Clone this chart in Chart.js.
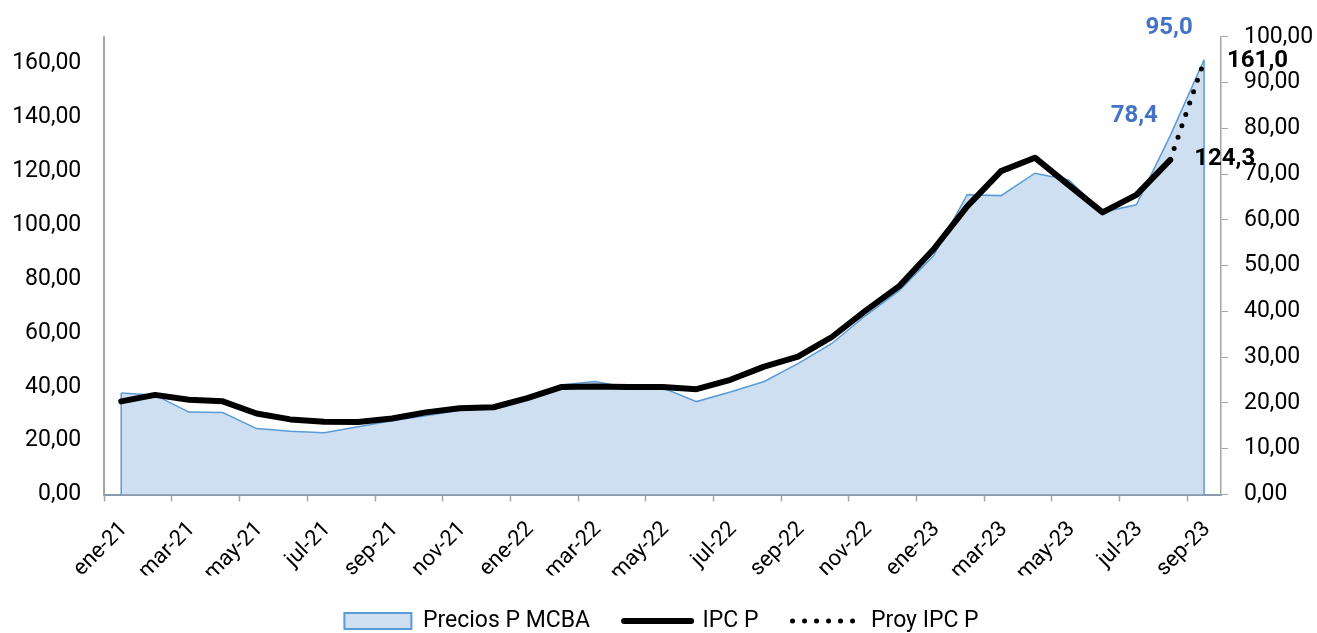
<!DOCTYPE html>
<html>
<head>
<meta charset="utf-8">
<script src="https://cdn.jsdelivr.net/npm/chart.js@4.4.0/dist/chart.umd.min.js"></script>
<style>
  html, body { margin: 0; padding: 0; background: #fff; }
</style>
</head>
<body>
<canvas id="chart" width="1317" height="633"></canvas>
<script>
// categories (monthly, ene-21 .. sep-23)
const months = [
  'ene-21', 'feb-21', 'mar-21', 'abr-21', 'may-21', 'jun-21', 'jul-21', 'ago-21', 'sep-21', 'oct-21', 'nov-21', 'dic-21',
  'ene-22', 'feb-22', 'mar-22', 'abr-22', 'may-22', 'jun-22', 'jul-22', 'ago-22', 'sep-22', 'oct-22', 'nov-22', 'dic-22',
  'ene-23', 'feb-23', 'mar-23', 'abr-23', 'may-23', 'jun-23', 'jul-23', 'ago-23', 'sep-23'
];

// Precios P MCBA (right axis)
const preciosMcba = [
  22.2, 21.7, 18.0, 17.9, 14.4, 13.8, 13.5, 14.8, 16.1, 17.2, 18.4, 19.0,
  21.1, 23.9, 24.7, 23.3, 23.3, 20.3, 22.4, 24.7, 28.6, 33.0, 39.1, 44.6,
  52.1, 65.5, 65.3, 70.2, 68.7, 61.7, 63.3, 78.4, 95.0
];

// IPC P (left axis)
const ipcP = [
  34.6, 37.0, 35.2, 34.6, 30.1, 27.9, 27.0, 26.9, 28.2, 30.5, 32.0, 32.4,
  35.8, 39.9, 40.1, 39.9, 39.9, 39.1, 42.6, 47.5, 51.2, 58.5, 68.3, 77.5,
  91.0, 107.0, 120.1, 125.1, 114.9, 104.8, 111.3, 124.3, null
];

// Proy IPC P (left axis)
const proyIpcP = [
  null, null, null, null, null, null, null, null, null, null, null, null,
  null, null, null, null, null, null, null, null, null, null, null, null,
  null, null, null, null, null, null, null, 124.3, 161.0
];

const AREA_FILL = '#CEDFF1';
const AREA_LINE = '#5B9BD5';
const AXIS_GRAY = '#A6A6A6';
const LABEL_BLUE = '#4472C4';

const fmt1 = v => v.toFixed(1).replace('.', ',');
const fmt2 = v => v.toFixed(2).replace('.', ',');

Chart.defaults.font.family = 'Roboto, "Noto Sans", sans-serif';
Chart.defaults.color = '#000';

// Excel-style area: draw the vertical left/right edges of the filled area
const areaEdges = {
  id: 'areaEdges',
  afterDatasetDraw(chart, args) {
    if (args.index !== 0) return;
    const pts = args.meta.data;
    const y0 = chart.scales.y2.getPixelForValue(0);
    const ctx = chart.ctx;
    ctx.save();
    ctx.strokeStyle = AREA_LINE;
    ctx.lineWidth = 1.5;
    [pts[0], pts[pts.length - 1]].forEach(p => {
      ctx.beginPath();
      ctx.moveTo(p.x, p.y);
      ctx.lineTo(p.x, y0);
      ctx.stroke();
    });
    ctx.restore();
  }
};

// value labels on the last points
const labelSpecs = [
  { ds: 0, i: 31, color: LABEL_BLUE, align: 'center', dx: -36, dy: -20 },
  { ds: 0, i: 32, color: LABEL_BLUE, align: 'center', dx: -35, dy: -32 },
  { ds: 1, i: 31, color: '#000', align: 'left', dx: 24, dy: -1 },
  { ds: 2, i: 32, color: '#000', align: 'left', dx: 23, dy: 0 }
];

const valueLabels = {
  id: 'valueLabels',
  afterDatasetsDraw(chart) {
    const ctx = chart.ctx;
    ctx.save();
    ctx.font = 'bold 24px Roboto';
    ctx.textBaseline = 'middle';
    labelSpecs.forEach(s => {
      const p = chart.getDatasetMeta(s.ds).data[s.i];
      const v = chart.data.datasets[s.ds].data[s.i];
      ctx.fillStyle = s.color;
      ctx.textAlign = s.align;
      ctx.fillText(fmt1(v), p.x + s.dx, p.y + s.dy);
    });
    ctx.restore();
  }
};

new Chart(document.getElementById('chart'), {
  type: 'line',
  data: {
    labels: months,
    datasets: [
      {
        label: 'Precios P MCBA',
        data: preciosMcba,
        yAxisID: 'y2',
        fill: 'origin',
        backgroundColor: AREA_FILL,
        borderColor: AREA_LINE,
        borderWidth: 1.5,
        pointRadius: 0,
        tension: 0,
        order: 3
      },
      {
        label: 'IPC P',
        data: ipcP,
        yAxisID: 'y',
        fill: false,
        borderColor: '#000',
        borderWidth: 6,
        borderCapStyle: 'round',
        borderJoinStyle: 'round',
        pointRadius: 0,
        tension: 0,
        order: 1
      },
      {
        label: 'Proy IPC P',
        data: proyIpcP,
        yAxisID: 'y',
        fill: false,
        borderColor: '#000',
        borderWidth: 5,
        borderDash: [0, 12],
        borderCapStyle: 'round',
        pointRadius: 0,
        tension: 0,
        order: 0
      }
    ]
  },
  options: {
    responsive: false,
    animation: false,
    events: [],
    // negative right padding only shifts the centred legend a bit to the right
    layout: { padding: { top: 32, left: 0, right: -6, bottom: -9.5 } },
    plugins: {
      tooltip: { enabled: false },
      legend: {
        position: 'bottom',
        labels: {
          usePointStyle: true,
          pointStyleWidth: 67,
          boxHeight: 16,
          padding: 34,
          color: '#262626',
          font: { size: 23 },
          generateLabels: () => [
            { text: 'Precios P MCBA', fillStyle: AREA_FILL, strokeStyle: AREA_LINE, lineWidth: 2, pointStyle: 'rect', datasetIndex: 0 },
            { text: 'IPC P', fillStyle: '#000', strokeStyle: '#000', lineWidth: 6, lineCap: 'round', pointStyle: 'line', datasetIndex: 1 },
            { text: 'Proy IPC P', fillStyle: '#000', strokeStyle: '#000', lineWidth: 5, lineCap: 'round', lineDash: [0, 12], pointStyle: 'line', datasetIndex: 2 }
          ]
        }
      }
    },
    scales: {
      x: {
        offset: true,
        grid: {
          offset: true,
          drawOnChartArea: false,
          tickLength: 7,
          tickWidth: 1.5,
          tickColor: ctx => ctx.index % 2 === 0 ? AXIS_GRAY : 'rgba(0,0,0,0)'
        },
        border: { color: '#8C9AAE', width: 2 },
        ticks: {
          autoSkip: false,
          minRotation: 45,
          maxRotation: 45,
          labelOffset: 3,
          padding: 15,
          color: '#000',
          font: { size: 22 },
          callback: (v, i) => i % 2 === 0 ? months[i] : ''
        },
        afterFit: s => { s.height = 81; }
      },
      y: {
        position: 'left',
        min: 0,
        max: 170,
        grid: { display: false, drawTicks: false },
        border: { color: AXIS_GRAY, width: 2 },
        ticks: {
          stepSize: 20,
          includeBounds: false,
          padding: 23,
          color: '#000',
          font: { size: 23 },
          callback: v => fmt2(v)
        },
        afterFit: s => { s.width = 104.3; }
      },
      y2: {
        position: 'right',
        min: 0,
        max: 100,
        grid: { drawOnChartArea: false, tickLength: 7, color: AXIS_GRAY },
        border: { color: AXIS_GRAY, width: 1.5 },
        ticks: {
          stepSize: 10,
          padding: 16,
          color: '#000',
          font: { size: 23 },
          callback: v => fmt2(v)
        },
        afterFit: s => { s.width = 102; }
      }
    }
  },
  plugins: [areaEdges, valueLabels]
});
</script>
</body>
</html>
